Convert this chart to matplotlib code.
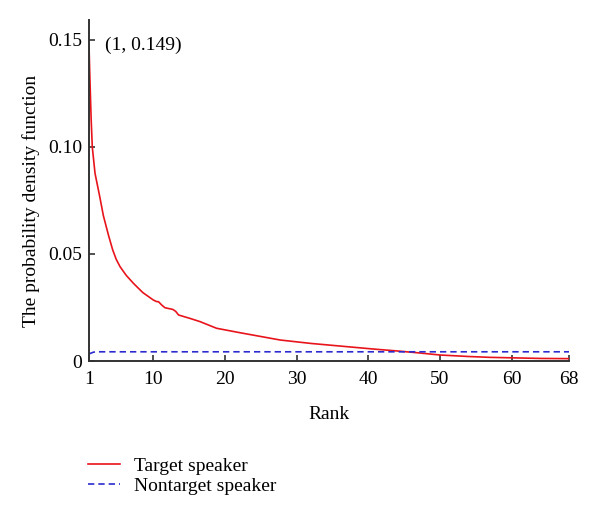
import matplotlib
matplotlib.use('Agg')
import matplotlib.pyplot as plt

# red curve: target speaker pdf over rank
rank_target = [1, 1.1, 1.3, 1.46, 1.84, 2.5, 3.0, 3.7, 4.3, 4.8, 5.33, 6.2, 7.2, 8.5, 9.98,
               10.4, 10.7, 11.2, 11.6, 12.7, 13.1, 13.5, 15.1, 16.5, 18.8, 22.1, 27.7,
               32, 37, 41, 44, 47, 50, 54, 57, 59.8, 64, 68]
pdf_target = [0.1477, 0.135, 0.113, 0.100, 0.0877, 0.0768, 0.068, 0.059, 0.052, 0.0475,
              0.0441, 0.040, 0.0363, 0.032, 0.0285, 0.0278, 0.0277, 0.026, 0.0249, 0.0241,
              0.0232, 0.0215, 0.0199, 0.0184, 0.0153, 0.0132, 0.0098, 0.0082, 0.0067,
              0.0055, 0.0047, 0.0038, 0.0028, 0.0021, 0.0017, 0.0015, 0.0012, 0.0011]

# blue dashed: nontarget speaker
rank_nontarget = [1, 1.6, 2, 68]
pdf_nontarget = [0.0033, 0.0041, 0.0043, 0.0043]

xticks = [1, 10, 20, 30, 40, 50, 60, 68]
yticks = [0, 0.05, 0.10, 0.15]
ytick_labels = ['0', '0.05', '0.10', '0.15']

plt.rcParams['font.family'] = ['Liberation Serif', 'DejaVu Serif']
plt.rcParams['font.size'] = 14

fig = plt.figure(figsize=(6, 5.08), dpi=100)
ax = fig.add_axes([89/600, 147/508, 480/600, 341/508])

ax.plot(rank_target, pdf_target, color='#e8141b', lw=1.2, label='Target speaker')
ax.plot(rank_nontarget, pdf_nontarget, color='#2b2bd0', lw=1.2,
        linestyle=(0, (3.8, 2.4)), label='Nontarget speaker')

ax.set_xlim(1, 68)
ax.set_ylim(0, (361 - 20) / 2140)
ax.set_xticks(xticks)
ax.set_yticks(yticks)
ax.set_yticklabels(ytick_labels)

for side in ['top', 'right']:
    ax.spines[side].set_visible(False)
for side in ['left', 'bottom']:
    ax.spines[side].set_linewidth(1.4)
    ax.spines[side].set_color('#333333')
ax.tick_params(direction='in', length=4.5, width=1.2, color='#333333', pad=5)
ax.tick_params(axis='x', pad=7)

ax.set_xlabel('Rank', labelpad=13)
ax.set_ylabel('The probability density function')
ax.yaxis.set_label_coords(-0.102, 0.469)

ax.annotate('(1, 0.149)', xy=(1, 0.1477), xytext=(11.5, 0),
            textcoords='offset points', va='center', ha='left')

fig.legend(loc='upper left', bbox_to_anchor=(88/600, 1 - 457/508), frameon=False,
           borderpad=0, borderaxespad=0, handlelength=1.65, handletextpad=0.7,
           labelspacing=0.15)

fig.savefig('out.png', dpi=100)
